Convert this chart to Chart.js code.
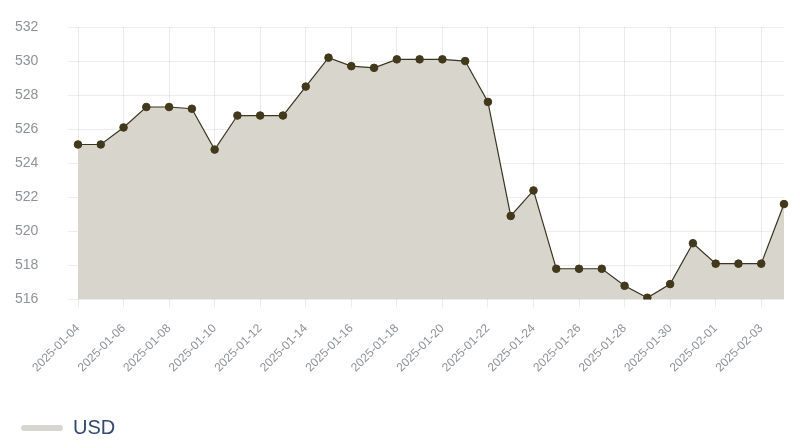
<!DOCTYPE html>
<html>
<head>
<meta charset="utf-8">
<script src="https://cdn.jsdelivr.net/npm/chart.js@4.4.1/dist/chart.umd.min.js"></script>
<style>
  html, body { margin: 0; padding: 0; background: #fff; }
  #wrap { width: 800px; height: 448px; }
</style>
</head>
<body>
<div id="wrap"><canvas id="myChart"></canvas></div>
<script>
'use strict';
const dates = [
  '2025-01-04','2025-01-05','2025-01-06','2025-01-07','2025-01-08','2025-01-09',
  '2025-01-10','2025-01-11','2025-01-12','2025-01-13','2025-01-14','2025-01-15',
  '2025-01-16','2025-01-17','2025-01-18','2025-01-19','2025-01-20','2025-01-21',
  '2025-01-22','2025-01-23','2025-01-24','2025-01-25','2025-01-26','2025-01-27',
  '2025-01-28','2025-01-29','2025-01-30','2025-01-31','2025-02-01','2025-02-02',
  '2025-02-03','2025-02-04'
];
const usdValues = [
  525.1, 525.1, 526.1, 527.3, 527.3, 527.2,
  524.8, 526.8, 526.8, 526.8, 528.5, 530.2,
  529.7, 529.6, 530.1, 530.1, 530.1, 530.0,
  527.6, 520.9, 522.4, 517.8, 517.8, 517.8,
  516.8, 516.1, 516.9, 519.3, 518.1, 518.1,
  518.1, 521.6
];
const yMin = 516;
const yMax = 532;
const yStep = 2;

Chart.defaults.font.family = 'Arial, "Liberation Sans", sans-serif';

const ctx = document.getElementById('myChart').getContext('2d');
const chart = new Chart(ctx, {
  type: 'line',
  data: {
    labels: dates,
    datasets: [{
      label: 'USD',
      data: usdValues,
      fill: true,
      backgroundColor: 'rgb(216, 213, 205)',
      borderColor: 'rgb(58, 52, 32)',
      borderWidth: 1.2,
      tension: 0,
      pointRadius: 3.8,
      pointBackgroundColor: 'rgb(66, 56, 28)',
      pointBorderColor: 'rgb(66, 56, 28)',
      pointBorderWidth: 1
    }]
  },
  options: {
    responsive: true,
    maintainAspectRatio: false,
    animation: false,
    layout: { padding: { left: 15, right: 16, top: 27, bottom: 0 } },
    plugins: {
      legend: {
        position: 'bottom',
        align: 'start',
        labels: {
          color: '#34496e',
          font: { size: 20 },
          boxWidth: 42,
          boxHeight: 6,
          useBorderRadius: true,
          borderRadius: 3,
          padding: 6,
          generateLabels: function(c) {
            const items = Chart.defaults.plugins.legend.labels.generateLabels(c);
            items.forEach(function(it) {
              it.fillStyle = 'rgb(216, 214, 208)';
              it.strokeStyle = 'rgb(216, 214, 208)';
              it.lineWidth = 0;
            });
            return items;
          }
        }
      },
      tooltip: { enabled: false }
    },
    scales: {
      x: {
        grid: { color: 'rgba(0,0,0,0.08)', tickLength: 8 },
        border: { display: false },
        afterFit: function(axis) { axis.height += 23; },
        ticks: {
          color: '#8e9298',
          font: { size: 12 },
          maxRotation: 45,
          minRotation: 45,
          padding: 14,
          autoSkip: false,
          callback: function(val, i) { return i % 2 === 0 ? this.getLabelForValue(val) : null; }
        }
      },
      y: {
        min: yMin,
        max: yMax,
        grid: { color: 'rgba(0,0,0,0.07)', tickLength: 10 },
        border: { display: false },
        afterFit: function(axis) { axis.width = 63; },
        ticks: {
          stepSize: yStep,
          color: '#8e9298',
          font: { size: 14 },
          padding: 3,
          crossAlign: 'far'
        }
      }
    }
  }
});
</script>
</body>
</html>
